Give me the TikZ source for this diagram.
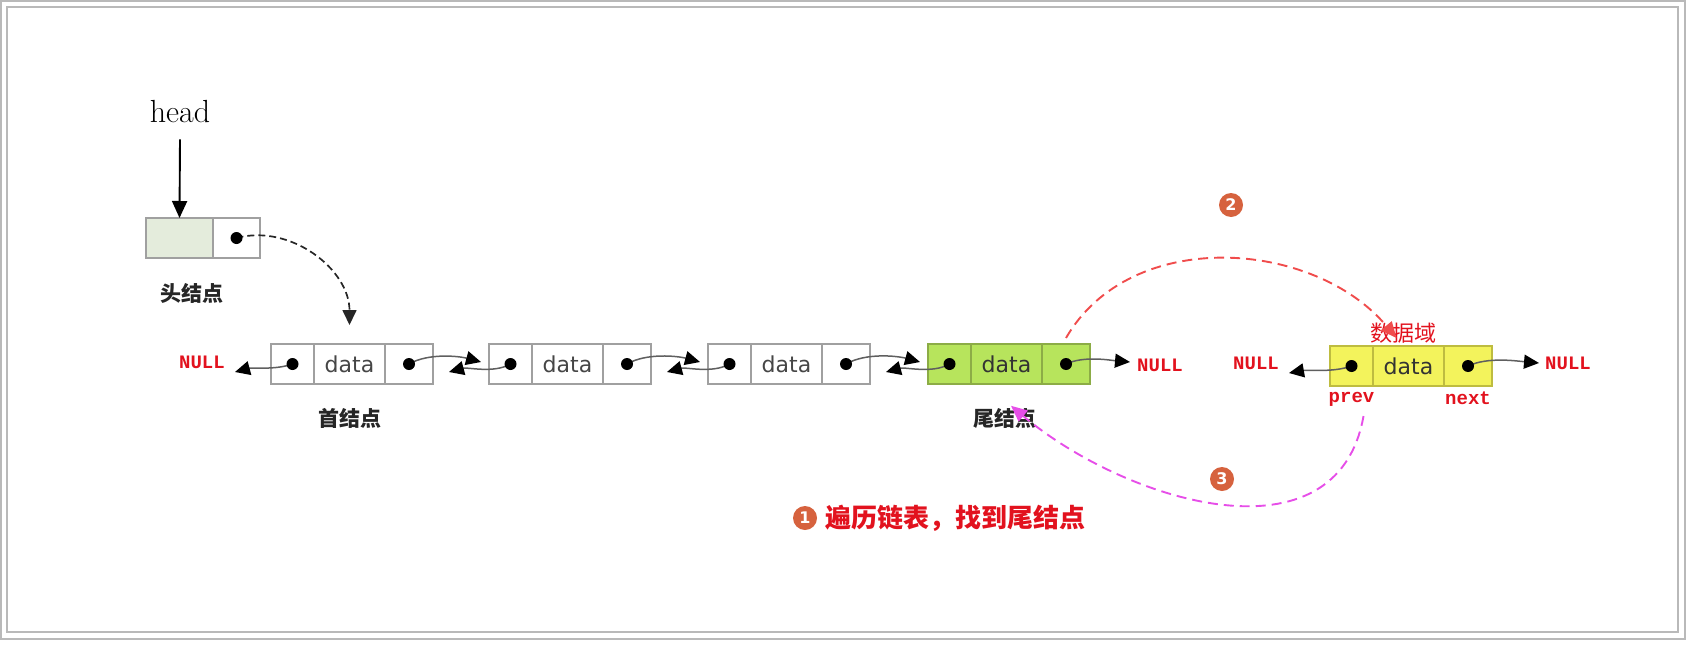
\documentclass[tikz,border=0pt]{standalone}
\usepackage{fontspec}
\newfontfamily\cjk{Noto Sans CJK SC}
\newfontfamily\datafont{DejaVu Sans}
\newfontfamily\ptrfont{Liberation Mono}
\usetikzlibrary{arrows.meta,positioning}
\definecolor{boxgray}{RGB}{160,160,160}
\definecolor{framegray}{RGB}{185,185,185}
\definecolor{ptrgray}{RGB}{95,95,95}
\definecolor{datagray}{RGB}{70,70,70}
\definecolor{headfill}{RGB}{228,236,220}
\definecolor{tailgreen}{RGB}{183,228,92}
\definecolor{tailedge}{RGB}{140,172,70}
\definecolor{newyellow}{RGB}{243,243,92}
\definecolor{newedge}{RGB}{190,188,64}
\definecolor{nullred}{RGB}{226,18,30}
\definecolor{arcred}{RGB}{240,76,76}
\definecolor{arcpink}{RGB}{230,78,232}
\definecolor{badge}{RGB}{214,98,62}
\tikzset{
  >={Triangle[length=15pt,width=14pt,color=black]},
  cell/.style={draw=boxgray,fill=#1,line width=1.2pt,minimum height=40pt,
    inner sep=0pt,outer sep=0pt},
  cell/.default=white,
  prevcell/.style={cell=#1,minimum width=43pt},
  prevcell/.default=white,
  datacell/.style={cell=#1,minimum width=71pt,text=datagray,
    font=\datafont\fontsize{22}{22}\selectfont},
  datacell/.default=white,
  nextcell/.style={cell=#1,minimum width=48pt},
  nextcell/.default=white,
  ptr/.style={->,line width=1.5pt,draw=ptrgray,looseness=0.8},
  headptr/.style={-{Triangle[length=17pt,width=15pt]},line width=1.9pt,draw=black},
  dashptr/.style={-{Triangle[length=15pt,width=14pt]},dashed,dash pattern=on 7pt off 4pt,
    line width=1.7pt,draw=black!85},
  nulltxt/.style={text=nullred,inner sep=0pt,font=\ptrfont\bfseries\fontsize{19}{19}\selectfont},
  tag/.style={text=black!85,inner sep=0pt,font=\cjk\bfseries\fontsize{21}{21}\selectfont},
  redarc/.style={-{Triangle[length=16pt,width=14pt]},draw=arcred,line width=1.9pt,
    dash pattern=on 10pt off 6pt},
  pinkarc/.style={-{Triangle[length=16pt,width=14pt]},draw=arcpink,line width=1.9pt,
    dash pattern=on 10pt off 6pt},
  numbadge/.style={circle,fill=badge,text=white,inner sep=0pt,minimum size=24pt,
    font=\datafont\bfseries\fontsize{16}{16}\selectfont},
  frameline/.style={draw=framegray,line width=1.3pt},
}
\begin{document}
\begin{tikzpicture}[x=1pt,y=-1pt]
  \useasboundingbox (0,0) rectangle (1691,645);
  \draw[frameline] (1,1) rectangle (1685,639);
  \draw[frameline] (7,7) rectangle (1678,632);

  % head pointer and head node
  \node[inner sep=0pt,font=\fontsize{32}{32}\selectfont] (head) at (180,112) {head};
  \node[cell=headfill,minimum width=67pt] (hl) at (179.5,238) {};
  \node[nextcell,minimum width=47pt,right=0pt of hl] (hn) {};
  \node[tag] (hlbl) at (192,293) {头结点};
  \draw[headptr] ([yshift=-16pt]head.south) -- (hl.north);

  % the list
  \node[prevcell] (n1p) at (292.5,364) {};
  \node[datacell,right=0pt of n1p] (n1d) {data};
  \node[nextcell,right=0pt of n1d] (n1n) {};
  \node[prevcell] (n2p) at (510.5,364) {};
  \node[datacell,right=0pt of n2p] (n2d) {data};
  \node[nextcell,right=0pt of n2d] (n2n) {};
  \node[prevcell] (n3p) at (729.5,364) {};
  \node[datacell,right=0pt of n3p] (n3d) {data};
  \node[nextcell,right=0pt of n3d] (n3n) {};
  \node[prevcell=tailgreen,draw=tailedge] (n4p) at (949.5,364) {};
  \node[datacell=tailgreen,draw=tailedge,text=black!80,right=0pt of n4p] (n4d) {data};
  \node[nextcell=tailgreen,draw=tailedge,right=0pt of n4d] (n4n) {};
  \node[tag] (flbl) at (350,418) {首结点};
  \node[tag] (tlbl) at (1005,418) {尾结点};

  % new node
  \node[prevcell=newyellow,draw=newedge] (yp) at (1351.5,366) {};
  \node[datacell=newyellow,draw=newedge,text=black!80,right=0pt of yp] (yd) {data};
  \node[nextcell=newyellow,draw=newedge,right=0pt of yd] (yn) {};
  \node[nulltxt,below=6pt of yp] (lprev) {prev};
  \node[nulltxt,below=6pt of yn] (lnext) {next};
  \node[text=nullred,inner sep=0pt,font=\cjk\fontsize{22}{22}\selectfont] (field) at (1403,333) {数据域};

  % NULL ends
  \node[nulltxt] (null1) at (202,362) {NULL};
  \node[nulltxt] (null2) at (1160,365) {NULL};
  \node[nulltxt] (null3) at (1256,363) {NULL};
  \node[nulltxt] (null4) at (1568,363) {NULL};

  % pointers
  \draw[dashptr] (hn.center) to[out=15,in=90] ([yshift=19pt]n1d.north);
  \draw[ptr] (n1p.center) to[out=-160,in=15] ([xshift=10pt,yshift=-10pt]null1.east);
  \draw[ptr] (n1n.center) to[out=30,in=165] ([xshift=-8pt,yshift=2pt]n2p.west);
  \draw[ptr] (n2p.center) to[out=-150,in=15] ([xshift=16pt,yshift=-8pt]n1n.east);
  \draw[ptr] (n2n.center) to[out=30,in=165] ([xshift=-8pt,yshift=2pt]n3p.west);
  \draw[ptr] (n3p.center) to[out=-150,in=15] ([xshift=16pt,yshift=-8pt]n2n.east);
  \draw[ptr] (n3n.center) to[out=30,in=165] ([xshift=-8pt,yshift=2pt]n4p.west);
  \draw[ptr] (n4p.center) to[out=-150,in=15] ([xshift=16pt,yshift=-8pt]n3n.east);
  \draw[ptr] (n4n.center) to[out=25,in=175] ([xshift=-7pt,yshift=3pt]null2.west);
  \draw[ptr] (yp.center) to[out=-160,in=10] ([xshift=10pt,yshift=-10pt]null3.east);
  \draw[ptr] (yn.center) to[out=25,in=175] ([xshift=-6pt]null4.west);
  \foreach \c in {hn,n1p,n1n,n2p,n2n,n3p,n3n,n4p,n4n,yp,yn}
    \fill (\c) circle (6pt);

  % steps
  \draw[redarc] ([yshift=6pt]n4n.north) to[out=60,in=130] ([xshift=-12pt,yshift=8pt]yd.north);
  \draw[pinkarc] ([xshift=12pt,yshift=-30pt]yp.south) to[out=-100,in=-40,looseness=1.1] ([xshift=6pt,yshift=2pt]tlbl.north);
  \node[numbadge] (b1) at (805,518) {1};
  \node[numbadge] (b2) at (1231,205) {2};
  \node[numbadge] (b3) at (1222,479) {3};
  \node[text=nullred,inner sep=0pt,anchor=west,font=\cjk\bfseries\fontsize{26}{26}\selectfont,
    right=8pt of b1] (note) {遍历链表，找到尾结点};
\end{tikzpicture}
\end{document}
